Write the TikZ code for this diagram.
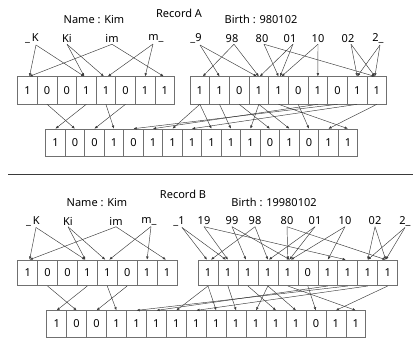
\documentclass[tikz,border=0pt]{standalone}
\usepackage{fontspec}
\setmainfont{Noto Sans}
\usetikzlibrary{arrows.meta}
\definecolor{ln}{HTML}{3A3A3A}
\definecolor{bx}{HTML}{707070}
\tikzset{
  cellbox/.style={draw=bx, line width=0.6pt, inner sep=0pt, font=\fontsize{11}{11}\selectfont},
  tok/.style={inner sep=1.5pt, font=\fontsize{11}{11}\selectfont},
  lbl/.style={inner sep=0pt, font=\fontsize{11}{12}\selectfont},
  arr/.style={draw=ln, line width=0.45pt, -{Latex[length=3.2pt,width=2.6pt]}},
}
\newcommand\bitrow[6]{%
  \foreach \b [count=\i from 0] in {#6} {
    \node[cellbox, minimum width=#3pt, minimum height=#5pt] (#1\i) at ({#2+#3*(\i+0.5)}, {#4+#5/2}) {\b};
  }}
\begin{document}
\begin{tikzpicture}[x=1pt,y=-1pt]
\useasboundingbox (0,0) rectangle (414,339);
% ---------------- Record A ----------------
\node[lbl] (ttlA) at (179,13) {Record A};
\node[lbl] (nameA) at (94,19.5) {Name : Kim};
\node[lbl] (birthA) at (261,19.5) {Birth : 980102};
\node[tok] (aK) at (32,38.5) {\_\,K};
\node[tok] (aKi) at (67,38.5) {Ki};
\node[tok] (aim) at (112,38.5) {im};
\node[tok] (am) at (156,38.5) {m\_};
\node[tok] (a9) at (196,38.5) {\_9};
\node[tok] (a98) at (232,38.5) {98};
\node[tok] (a80) at (262,38.5) {80};
\node[tok] (a01) at (290,38.5) {01};
\node[tok] (a10) at (318,38.5) {10};
\node[tok] (a02) at (348,38.5) {02};
\node[tok] (a2) at (378,38.5) {2\_};
\bitrow{aL}{17.7}{19.6}{76.7}{27.3}{1,0,0,1,1,0,1,1}
\bitrow{aR}{190}{19.67}{76.7}{27.3}{1,1,0,1,1,0,1,0,1,1}
\bitrow{aB}{45.7}{19.5}{129}{27}{1,0,0,1,0,1,1,1,1,1,1,0,1,0,1,1}
% tokens -> top cells
\draw[arr] ([xshift=4pt]aK.south) -- ([xshift=2pt]aL0.north);
\draw[arr] ([xshift=4pt]aK.south) -- ([xshift=-2pt]aL3.north);
\draw[arr] (aKi.south) -- ([xshift=-2pt]aL3.north);
\draw[arr] (aKi.south) -- ([xshift=-2pt]aL4.north);
\draw[arr] (aim.south) -- ([xshift=2pt]aL0.north);
\draw[arr] (aim.south) -- ([xshift=-1pt]aL7.north);
\draw[arr] ([xshift=-3pt]am.south) -- ([xshift=2pt]aL4.north);
\draw[arr] ([xshift=-3pt]am.south) -- (aL6.north);
\draw[arr] ([xshift=4pt]a9.south) -- (aR1.north);
\draw[arr] ([xshift=4pt]a9.south) -- ([xshift=-2pt]aR3.north);
\draw[arr] ([xshift=2pt]a98.south) -- ([xshift=3pt]aR0.north);
\draw[arr] ([xshift=2pt]a98.south) -- (aR3.north);
\draw[arr] ([xshift=2pt]a80.south) -- (aR4.north);
\draw[arr] ([xshift=2pt]a80.south) -- ([xshift=-2pt]aR9.north);
\draw[arr] ([xshift=3pt]a01.south) -- ([xshift=1pt]aR3.north);
\draw[arr] ([xshift=3pt]a01.south) -- ([xshift=1.5pt]aR4.north);
\draw[arr] (a10.south) -- ([xshift=3pt]aR4.north);
\draw[arr] (a10.south) -- (aR6.north);
\draw[arr] ([xshift=3pt]a02.south) -- (aR8.north);
\draw[arr] ([xshift=3pt]a02.south) -- ([xshift=-2pt]aR9.north);
\draw[arr] ([xshift=2pt]a2.south) -- (aR8.north);
\draw[arr] ([xshift=2pt]a2.south) -- ([xshift=-2pt]aR9.north);
% top cells -> bottom cells
\foreach \s/\t in {aL3/aB0, aL1/aB1, aL5/aB2, aL4/aB3, aR7/aB4, aR6/aB5, aR0/aB6, aR8/aB7, aR0/aB8, aR1/aB9, aR3/aB10, aR2/aB11, aR3/aB12, aR5/aB13, aR9/aB14, aR4/aB15}
  \draw[arr] (\s.south) -- (\t.north);
% separator
\draw[draw=ln, line width=0.7pt] (8,174) coordinate (sepL) -- (413,174) coordinate (sepR);
% ---------------- Record B ----------------
\node[lbl] (ttlB) at (183,194) {Record B};
\node[lbl] (nameB) at (97,203) {Name : Kim};
\node[lbl] (birthB) at (274,202) {Birth : 19980102};
\node[tok] (bK) at (33,221) {\_\,K};
\node[tok] (bKi) at (68,221) {Ki};
\node[tok] (bim) at (116,221) {im};
\node[tok] (bm) at (149,221) {m\_};
\node[tok] (b1) at (179,221) {\_1};
\node[tok] (b19) at (204,221) {19};
\node[tok] (b99) at (232,221) {99};
\node[tok] (b98) at (255,221) {98};
\node[tok] (b80) at (287,221) {80};
\node[tok] (b01) at (315,221) {01};
\node[tok] (b10) at (345,221) {10};
\node[tok] (b02) at (375,221) {02};
\node[tok] (b2) at (405,221) {2\_};
\bitrow{bL}{17.7}{19.9}{260}{25.7}{1,0,0,1,1,0,1,1}
\bitrow{bR}{198}{19.97}{260}{25.7}{1,1,1,1,1,0,1,1,1,1}
\bitrow{bB}{46.7}{19.94}{310.7}{26.3}{1,0,0,1,1,1,1,1,1,1,1,1,1,0,1,1}
\draw[arr] ([xshift=3pt]bK.south) -- ([xshift=2pt]bL0.north);
\draw[arr] ([xshift=3pt]bK.south) -- ([xshift=-2pt]bL3.north);
\draw[arr] (bKi.south) -- ([xshift=-2pt]bL3.north);
\draw[arr] (bKi.south) -- ([xshift=-2pt]bL4.north);
\draw[arr] (bim.south) -- ([xshift=2pt]bL0.north);
\draw[arr] (bim.south) -- ([xshift=-1pt]bL7.north);
\draw[arr] ([xshift=2pt]bm.south) -- ([xshift=2pt]bL4.north);
\draw[arr] ([xshift=2pt]bm.south) -- (bL6.north);
\draw[arr] ([xshift=3pt]b1.south) -- ([xshift=-1pt]bR0.north);
\draw[arr] ([xshift=3pt]b1.south) -- ([xshift=-2pt]bR1.north);
\draw[arr] (b19.south) -- (bR1.north);
\draw[arr] (b19.south) -- ([xshift=-2pt]bR7.north);
\draw[arr] (b99.south) -- ([xshift=-2pt]bR2.north);
\draw[arr] (b99.south) -- ([xshift=2pt]bR4.north);
\draw[arr] (b98.south) -- ([xshift=3pt]bR0.north);
\draw[arr] (b98.south) -- (bR3.north);
\draw[arr] (b80.south) -- (bR4.north);
\draw[arr] (b80.south) -- ([xshift=-2pt]bR9.north);
\draw[arr] (b01.south) -- ([xshift=1pt]bR3.north);
\draw[arr] (b01.south) -- ([xshift=1.5pt]bR4.north);
\draw[arr] (b10.south) -- ([xshift=3pt]bR4.north);
\draw[arr] (b10.south) -- (bR6.north);
\draw[arr] (b02.south) -- (bR8.north);
\draw[arr] (b02.south) -- ([xshift=-2pt]bR9.north);
\draw[arr] (b2.south) -- (bR8.north);
\draw[arr] (b2.south) -- ([xshift=-2pt]bR9.north);
\foreach \s/\t in {bL3/bB0, bL1/bB1, bL5/bB2, bL4/bB3, bR7/bB4, bR6/bB5, bR0/bB6, bR8/bB7, bR0/bB8, bR1/bB9, bR3/bB10, bR2/bB11, bR3/bB12, bR5/bB13, bR9/bB14, bR4/bB15}
  \draw[arr] (\s.south) -- (\t.north);
\end{tikzpicture}
\end{document}
